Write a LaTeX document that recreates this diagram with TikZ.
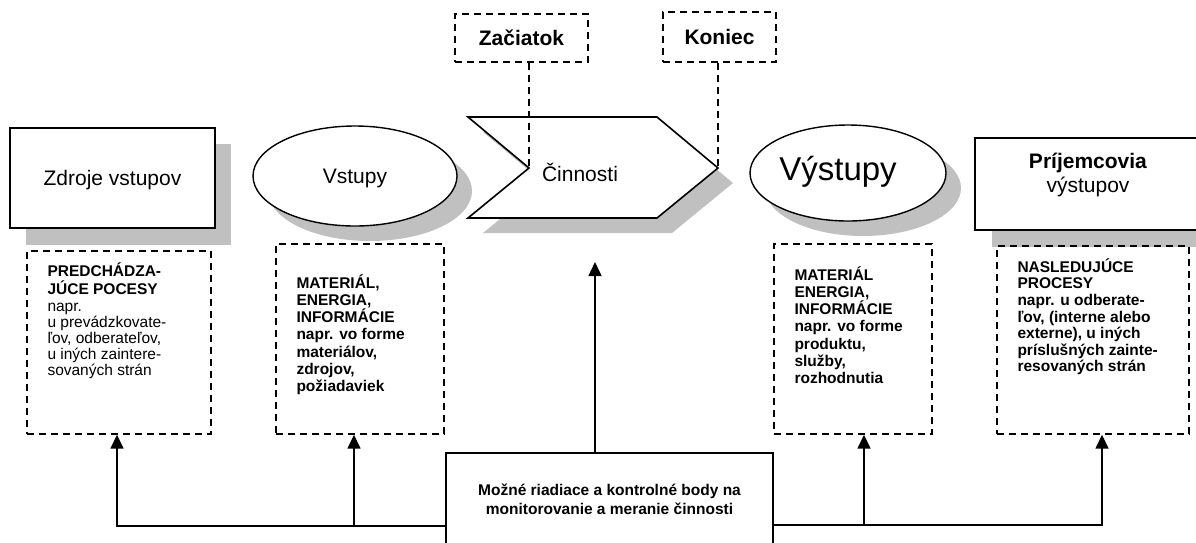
\documentclass[tikz,border=0pt]{standalone}
\usepackage{fontspec}
\setmainfont{Liberation Sans}
\usetikzlibrary{arrows.meta, positioning, shapes.geometric}
\definecolor{shadowgray}{RGB}{192, 192, 192}

\tikzset{
    plainbox/.style = {draw, line width = 1.6pt, fill = white, inner sep = 0pt},
    oval/.style = {ellipse, draw, line width = 1.4pt, fill = white, inner sep = 0pt},
    dashframe/.style = {draw, line width = 1.4pt, dash pattern = on 7pt off 5pt, inner sep = 0pt},
    big/.style = {font = \fontsize{21}{24}\selectfont},
    bigbold/.style = {font = \fontsize{21}{24}\selectfont\bfseries},
    note/.style = {align = left, inner sep = 0pt, anchor = north west, font = \fontsize{15.5}{17.2}\selectfont\bfseries},
    link/.style = {line width = 1.6pt, -{Triangle[length = 14pt, width = 13pt]}},
    guide/.style = {line width = 1.4pt, dash pattern = on 7pt off 5pt},
}

\begin{document}
\begin{tikzpicture}[x = 1pt, y = -1pt]
    \useasboundingbox (0,0) rectangle (1196,542);

    % shadows
    \fill[shadowgray] (26,144) rectangle (231,245);
    \fill[shadowgray] (370,191) ellipse [x radius = 102pt, y radius = 50pt];
    \fill[shadowgray, shift = {(15,15)}] (468,117) -- (657,117) -- (718,168) -- (657,218) -- (468,218) -- (529,168) -- cycle;
    \fill[shadowgray] (863,188) ellipse [x radius = 98pt, y radius = 48pt];
    \fill[shadowgray] (992,155) rectangle (1220,247);

    \node[plainbox, minimum width = 205pt, minimum height = 100pt, text depth = 0pt, big] (src) at (112.5,178) {Zdroje vstupov};
    \node[oval, minimum width = 204pt, minimum height = 100pt, text depth = 0pt, big] (in) at (355,176) {Vstupy};

    \coordinate (notch) at (529,168);
    \coordinate (tip) at (718,168);
    \draw[line width = 1.6pt, fill = white] (468,117) -- (657,117) -- (tip) -- (657,218) -- (468,218) -- (notch) -- cycle;
    \node[big, inner sep = 0pt] (act) at (580,172) {Činnosti};

    \node[oval, minimum width = 196pt, minimum height = 96pt] (out) at (848,173) {};
    \node[inner sep = 0pt, font = \fontsize{33}{36}\selectfont] (outtxt) at (838,172) {Výstupy};

    \node[plainbox, minimum width = 226pt, minimum height = 92pt] (rcv) at (1088,184) {};
    \node[big, align = center, inner sep = 0pt, below = 16pt of rcv.north] (rcvtxt) {\textbf{Príjemcovia}\\výstupov};

    \node[dashframe, minimum width = 133pt, minimum height = 48pt, bigbold] (start) at (521.5,38) {Začiatok};
    \node[dashframe, minimum width = 113pt, minimum height = 50pt, bigbold] (stop) at (719.5,37) {Koniec};
    \draw[guide] (notch |- start.south) -- (notch);
    \draw[guide] (tip |- stop.south) -- (tip);

    % dashed boxes below
    \node[dashframe, minimum width = 184pt, minimum height = 183pt] (prev) at (119,342.5) {};
    \node[dashframe, minimum width = 168pt, minimum height = 190pt] (inputs) at (360,339) {};
    \node[dashframe, minimum width = 158pt, minimum height = 190pt] (outputs) at (853,339) {};
    \node[dashframe, minimum width = 192pt, minimum height = 188pt] (next) at (1093,340) {};

    \node[note, font = \fontsize{15.5}{16}\selectfont] (prevtxt) at ([xshift = 21pt, yshift = -12pt]prev.north west)
    {%
        \textbf{PREDCHÁDZA-}\\[2pt]%
        \textbf{JÚCE POCESY}\\[1pt]%
        napr.\\%
        u prevádzkovate-\\%
        ľov, odberateľov,\\%
        u iných zaintere-\\%
        sovaných strán%
    };
    \node[note] (inputstxt) at ([xshift = 21pt, yshift = -31pt]inputs.north west)
    {%
        MATERIÁL,\\ENERGIA,\\INFORMÁCIE\\napr. vo forme\\materiálov,\\zdrojov,\\požiadaviek%
    };
    \node[note] (outputstxt) at ([xshift = 21pt, yshift = -23pt]outputs.north west)
    {%
        MATERIÁL\\ENERGIA,\\INFORMÁCIE\\napr. vo forme\\produktu,\\služby,\\rozhodnutia%
    };
    \node[note, font = \fontsize{15.5}{16.6}\selectfont\bfseries] (nexttxt) at ([xshift = 21pt, yshift = -13pt]next.north west)
    {%
        NASLEDUJÚCE\\PROCESY\\napr. u odberate-\\ľov, (interne alebo\\externe), u iných\\príslušných zainte-\\resovaných strán%
    };

    \node[plainbox, minimum width = 327pt, minimum height = 92pt, align = center, font = \fontsize{15.5}{19}\selectfont\bfseries] (ctrl) at (609.5,499)
    {Možné riadiace a kontrolné body na\\monitorovanie a meranie činnosti};

    \coordinate (busL) at ([yshift = -27pt]ctrl.west);
    \coordinate (busR) at ([yshift = -26pt]ctrl.east);
    \coordinate (actin) at (595,262);
    \draw[link] (busL) -| ([xshift = -2pt]prev.south);
    \draw[link] (busL) -| ([xshift = -6pt]inputs.south);
    \draw[link] (busR) -| ([xshift = 11pt]outputs.south);
    \draw[link] (busR) -| ([xshift = 9pt]next.south);
    \draw[link] (ctrl.north -| actin) -- (actin);
\end{tikzpicture}
\end{document}
